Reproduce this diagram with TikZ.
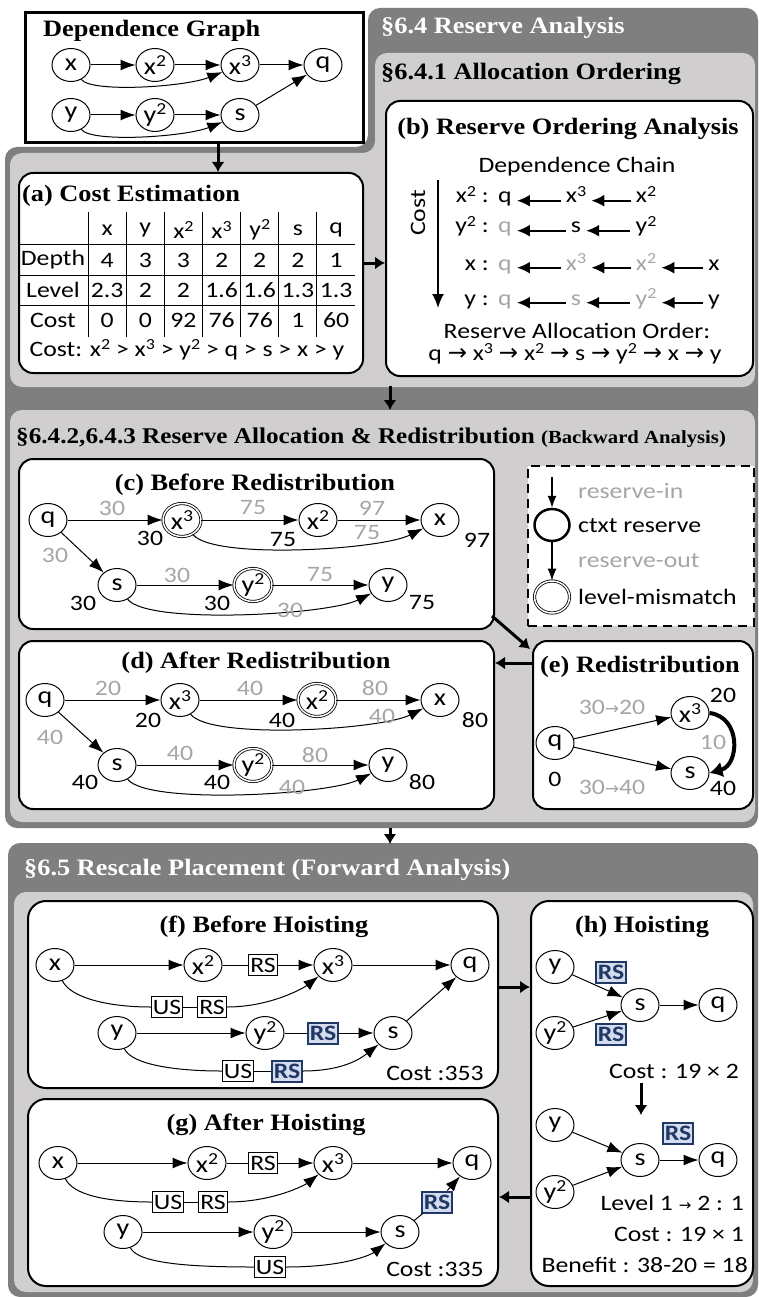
\documentclass[tikz,border=0pt]{standalone}
\usepackage{fontspec}
\setmainfont{Liberation Serif}[FakeStretch=1.12]
\setsansfont{Carlito}[FakeStretch=1.17]
\newfontfamily\arrf{DejaVu Sans}
\usetikzlibrary{arrows.meta,shapes.geometric}
\definecolor{dgray}{HTML}{7F7F7F}
\definecolor{lgray}{HTML}{D0CECE}
\definecolor{tgray}{HTML}{A6A6A6}
\definecolor{navy}{HTML}{203864}
\definecolor{lblue}{HTML}{D6DCF0}
\newcommand\myttl{\rmfamily\bfseries\fontsize{23.5}{26}\selectfont}
\newcommand\mysf{\sffamily\fontsize{22}{24}\selectfont}
\newcommand\mynd{\sffamily\fontsize{24}{24}\selectfont}
\newcommand\ssc[1]{\raisebox{0.62ex}{\scalebox{0.7}{#1}}}
\newcommand\ra{{\arrf\fontsize{17}{17}\selectfont →}}
\newcommand\rb{{\arrf\fontsize{23}{23}\selectfont →}}
\begin{document}
\begin{tikzpicture}[x=1pt,y=-1pt,
  nd/.style={ellipse, draw, line width=1pt, minimum width=38pt, minimum height=33pt, inner sep=0pt, fill=white, font=\mynd},
  dnd/.style={nd, double, double distance=1.5pt, line width=0.8pt},
  ed/.style={-{Latex[length=15pt,width=11pt]}, line width=1pt},
  ln/.style={line width=1pt},
  bigar/.style={-{Latex[length=10pt,width=13pt]}, line width=3pt},
  chain/.style={-{Latex[length=13pt,width=12pt]}, line width=2pt, shorten <=4pt, shorten >=4pt},
  bx/.style={draw, line width=2pt, rounded corners=14pt, fill=white, inner sep=0pt, anchor=north west},
  lb/.style={font=\mysf, inner sep=1pt},
  gl/.style={lb, text=tgray},
  ttl/.style={font=\myttl, inner sep=0pt},
  rsb/.style={draw, line width=1pt, fill=white, inner sep=1.5pt, font=\mysf, minimum height=21pt},
  brs/.style={draw=navy, line width=2pt, fill=lblue, text=navy, inner sep=1.5pt, font=\mysf\bfseries, minimum height=21pt},
]
\useasboundingbox (0,0) rectangle (759,1297);
\fill[white] (0,0) rectangle (759,1297);

% ---------- panels ----------
\fill[dgray, rounded corners=12pt] (368,8) -- (758,8) -- (758,828) -- (5,828) -- (5,147) -- (368,147) -- cycle;
\fill[lgray, rounded corners=12pt] (375,53) -- (755,53) -- (755,387) -- (10,387) -- (10,153) -- (375,153) -- cycle;
\fill[lgray, rounded corners=12pt] (10,410) rectangle (755,822);
\fill[dgray, rounded corners=12pt] (8,843) rectangle (758,1297);
\fill[lgray, rounded corners=12pt] (14,892) rectangle (753,1292);

\node[ttl, text=white, anchor=base west] (h64) at (381,34) {§6.4 Reserve Analysis};
\node[ttl, anchor=base west] (h641) at (381,80) {§6.4.1 Allocation Ordering};
\node[ttl, anchor=base west] (h642) at (16,443) {\fontsize{22.5}{24}\selectfont §6.4.2,6.4.3 Reserve Allocation \& Redistribution {\fontsize{18.5}{20}\selectfont (Backward Analysis)}};
\node[ttl, text=white, anchor=base west] (h65) at (24,875) {§6.5 Rescale Placement (Forward Analysis)};

% ---------- dependence graph ----------
\node[draw, line width=3pt, fill=white, anchor=north west, minimum width=338pt, minimum height=130pt, inner sep=0pt] (dg) at (24,11) {};
\node[ttl, anchor=base west] (dgt) at (43,37) {Dependence Graph};
\node[nd] (gx) at (71,65) {x};
\node[nd] (gx2) at (155,65) {x\ssc{2}};
\node[nd] (gx3) at (240,65) {x\ssc{3}};
\node[nd] (gq) at (323,65) {q};
\node[nd] (gy) at (71,115) {y};
\node[nd] (gy2) at (155,115) {y\ssc{2}};
\node[nd] (gs) at (240,115) {s};
\draw[ed] (gx) -- (gx2);
\draw[ed] (gx2) -- (gx3);
\draw[ed] (gx3) -- (gq);
\draw[ed] (gx) .. controls +(20,28) and +(-55,22) .. (gx3);
\draw[ed] (gy) -- (gy2);
\draw[ed] (gy2) -- (gs);
\draw[ed] (gs) -- (gq);
\draw[ed] (gy) .. controls +(20,28) and +(-55,22) .. (gs);

% ---------- (a) ----------
\node[bx, minimum width=344pt, minimum height=200pt] (boxa) at (18,172) {};
\draw[bigar] (dg.south -| 218,0) -- (boxa.north -| 218,0);
\node[ttl, anchor=base west] (at) at (22,202) {(a) Cost Estimation};
\foreach \yy in {245,275,305} \draw[line width=1pt] (20,\yy) -- (355,\yy);
\foreach \xx in {88,126.1,164.3,202.4,240.6,278.7,316.9} \draw[line width=1pt] (\xx,212) -- (\xx,337);
\foreach \t [count=\i] in {x,y,x\ssc{2},x\ssc{3},y\ssc{2},s,q} \node[lb] at ({69+38.15*\i},230) {\t};
\node[lb] at (53,260) {Depth};
\node[lb] at (53,290) {Level};
\node[lb] at (53,320) {Cost};
\foreach \t [count=\i] in {4,3,3,2,2,2,1} \node[lb] at ({69+38.15*\i},260) {\t};
\foreach \t [count=\i] in {2.3,2,2,1.6,1.6,1.3,1.3} \node[lb] at ({69+38.15*\i},290) {\t};
\foreach \t [count=\i] in {0,0,92,76,76,1,60} \node[lb] at ({69+38.15*\i},320) {\t};
\node[lb] (aco) at (187,350) {Cost: x\ssc{2} > x\ssc{3} > y\ssc{2} > q > s > x > y};

% ---------- (b) ----------
\node[bx, minimum width=367pt, minimum height=275pt] (boxb) at (385,100) {};
\draw[bigar] (boxa.east |- 0,263) -- (boxb.west |- 0,263);
\node[ttl, anchor=base] (bt) at (568,135) {(b) Reserve Ordering Analysis};
\node[lb] (bdc) at (577,167) {Dependence Chain};
\coordinate (ct) at (438,180);
\coordinate (cb) at (438,308);
\draw[-{Latex[length=14pt,width=12pt]}, line width=2pt] (ct) -- (cb);
\node[lb, rotate=90] (cl) at (418,213) {Cost};
% row 1
\node[lb, anchor=base east] (r1l) at (490,203) {x\ssc{2} :};
\node[lb, anchor=base] (r1a) at (505,203) {q};
\node[lb, anchor=base] (r1b) at (576,203) {x\ssc{3}};
\node[lb, anchor=base] (r1c) at (646,203) {x\ssc{2}};
\draw[chain] (r1b.mid west) -- (r1a.mid east);
\draw[chain] (r1c.mid west) -- (r1b.mid east);
% row 2
\node[lb, anchor=base east] (r2l) at (490,233) {y\ssc{2} :};
\node[gl, anchor=base] (r2a) at (505,233) {q};
\node[lb, anchor=base] (r2b) at (576,233) {s};
\node[lb, anchor=base] (r2c) at (646,233) {y\ssc{2}};
\draw[chain] (r2b.mid west) -- (r2a.mid east);
\draw[chain] (r2c.mid west) -- (r2b.mid east);
% row 3
\node[lb, anchor=base east] (r3l) at (490,270) {x :};
\node[gl, anchor=base] (r3a) at (505,270) {q};
\node[gl, anchor=base] (r3b) at (576,270) {x\ssc{3}};
\node[gl, anchor=base] (r3c) at (646,270) {x\ssc{2}};
\node[lb, anchor=base] (r3d) at (714,270) {x};
\draw[chain] (r3b.mid west) -- (r3a.mid east);
\draw[chain] (r3c.mid west) -- (r3b.mid east);
\draw[chain] (r3d.mid west) -- (r3c.mid east);
% row 4
\node[lb, anchor=base east] (r4l) at (490,305) {y :};
\node[gl, anchor=base] (r4a) at (505,305) {q};
\node[gl, anchor=base] (r4b) at (576,305) {s};
\node[gl, anchor=base] (r4c) at (646,305) {y\ssc{2}};
\node[lb, anchor=base] (r4d) at (714,305) {y};
\draw[chain] (r4b.mid west) -- (r4a.mid east);
\draw[chain] (r4c.mid west) -- (r4b.mid east);
\draw[chain] (r4d.mid west) -- (r4c.mid east);
\node[lb] (rao) at (577,331) {Reserve Allocation Order:};
\node[lb] (rord) at (575,354) {q \rb{} x\ssc{3} \rb{} x\ssc{2} \rb{} s \rb{} y\ssc{2} \rb{} x \rb{} y};

\coordinate (pa) at (390,386);
\coordinate (pb) at (390,410);
\draw[bigar] (pa) -- (pb);

% ---------- (c) ----------
\node[bx, minimum width=475pt, minimum height=170pt] (boxc) at (18,458) {};
\node[ttl, anchor=base] (ct2) at (255,490) {(c) Before Redistribution};
\node[nd] (cq) at (48,520) {q};
\node[dnd] (cx3) at (182,520) {x\ssc{3}};
\node[nd] (cx2) at (318,520) {x\ssc{2}};
\node[nd] (cx) at (440,520) {x};
\node[nd] (cs) at (117,585) {s};
\node[dnd] (cy2) at (253,585) {y\ssc{2}};
\node[nd] (cy) at (388,585) {y};
\draw[ed] (cq) -- (cx3);
\draw[ed] (cx3) -- (cx2);
\draw[ed] (cx2) -- (cx);
\draw[ed] (cx3) .. controls +(30,40) and +(-60,30) .. (cx);
\draw[ed] (cq) -- (cs);
\draw[ed] (cs) -- (cy2);
\draw[ed] (cy2) -- (cy);
\draw[ed] (cs) .. controls +(30,40) and +(-60,30) .. (cy);
\node[gl] at (112,508) {30};
\node[gl] at (253,508) {75};
\node[gl] at (372,508) {97};
\node[gl] at (367,533) {75};
\node[gl] at (55,555) {30};
\node[gl] at (177,575) {30};
\node[gl] at (320,575) {75};
\node[gl] at (290,610) {30};
\node[lb] at (150,538) {30};
\node[lb] at (283,540) {75};
\node[lb] at (477,540) {97};
\node[lb] at (83,603) {30};
\node[lb] at (217,603) {30};
\node[lb] at (422,603) {75};

% ---------- legend ----------
\node[draw, line width=2pt, dash pattern=on 9pt off 6pt, fill=white, anchor=north west, minimum width=226pt, minimum height=160pt, inner sep=0pt] (leg) at (527,465) {};
\coordinate (lt) at (552,477);
\node[ellipse, draw, line width=2.5pt, minimum width=35pt, minimum height=32pt, inner sep=0pt, fill=white] (lc) at (552,525) {};
\node[dnd, minimum width=35pt, minimum height=32pt] (lm) at (552,597) {};
\draw[-{Latex[length=12pt,width=9pt]}, line width=1.2pt] (lt) -- (lc);
\draw[-{Latex[length=12pt,width=9pt]}, line width=1.2pt] (lc) -- (lm);
\node[gl, anchor=west] at (577,491) {reserve-in};
\node[lb, anchor=west] at (577,526) {ctxt reserve};
\node[gl, anchor=west] at (577,561) {reserve-out};
\node[lb, anchor=west] at (577,597) {level-mismatch};

% ---------- (d) ----------
\node[bx, minimum width=475pt, minimum height=168pt] (boxd) at (18,640) {};
\node[ttl, anchor=base] (dt) at (256,668) {(d) After Redistribution};
\node[nd] (dq) at (45,700) {q};
\node[nd] (dx3) at (180,700) {x\ssc{3}};
\node[dnd] (dx2) at (317,700) {x\ssc{2}};
\node[nd] (dx) at (440,700) {x};
\node[nd] (ds) at (117,765) {s};
\node[dnd] (dy2) at (253,765) {y\ssc{2}};
\node[nd] (dy) at (388,765) {y};
\draw[ed] (dq) -- (dx3);
\draw[ed] (dx3) -- (dx2);
\draw[ed] (dx2) -- (dx);
\draw[ed] (dx3) .. controls +(30,40) and +(-60,30) .. (dx);
\draw[ed] (dq) -- (ds);
\draw[ed] (ds) -- (dy2);
\draw[ed] (dy2) -- (dy);
\draw[ed] (ds) .. controls +(30,40) and +(-60,30) .. (dy);
\node[gl] at (108,688) {20};
\node[gl] at (250,688) {40};
\node[gl] at (375,688) {80};
\node[gl] at (382,716) {40};
\node[gl] at (50,737) {40};
\node[gl] at (180,753) {40};
\node[gl] at (315,755) {80};
\node[gl] at (292,787) {40};
\node[lb] at (148,720) {20};
\node[lb] at (282,720) {40};
\node[lb] at (475,720) {80};
\node[lb] at (85,782) {40};
\node[lb] at (217,782) {40};
\node[lb] at (422,782) {80};

% ---------- (e) ----------
\node[bx, minimum width=220pt, minimum height=168pt] (boxe) at (532,640) {};
\node[ttl, anchor=base west] (et) at (540,672) {(e) Redistribution};
\node[nd] (eq) at (555,743) {q};
\node[nd] (ex3) at (690,713) {x\ssc{3}};
\node[nd] (es) at (690,773) {s};
\draw[ed] (eq) -- (ex3);
\draw[ed] (eq) -- (es);
\draw[line width=4pt, -{Latex[length=13pt,width=16pt]}] (ex3.east) .. controls +(32,4) and +(30,-8) .. (es.east);
\node[gl] at (612,707) {30\ra{}20};
\node[gl] at (612,787) {30\ra{}40};
\node[gl] at (713,742) {10};
\node[lb] at (555,779) {0};
\node[lb] at (723,695) {20};
\node[lb] at (723,788) {40};
\draw[bigar] ([shift={(-3,-14)}]boxc.south east) -- ([shift={(-2,9)}]boxe.north west);
\draw[bigar] (boxe.west |- 0,663) -- (boxd.east |- 0,663);

\coordinate (pc) at (390,828);
\coordinate (pd) at (390,844);
\draw[bigar] (pc) -- (pd);

% ---------- (f) ----------
\node[bx, minimum width=470pt, minimum height=187pt, rounded corners=18pt] (boxf) at (27,900) {};
\node[ttl, anchor=base] (ft) at (264,932) {(f) Before Hoisting};
\node[nd] (fx) at (55,965) {x};
\node[nd] (fx2) at (203,965) {x\ssc{2}};
\node[rsb] (frs1) at (263,965) {RS};
\node[nd] (fx3) at (333,965) {x\ssc{3}};
\node[nd] (fq) at (470,965) {q};
\node[rsb] (fus1) at (167,1007) {US};
\node[rsb] (frs2) at (212,1007) {RS};
\node[nd] (fy) at (117,1033) {y};
\node[nd] (fy2) at (265,1033) {y\ssc{2}};
\node[brs] (frs3) at (323,1033) {RS};
\node[nd] (fs) at (393,1033) {s};
\node[rsb] (fus2) at (238,1071) {US};
\node[brs] (frs4) at (287,1071) {RS};
\draw[ed] (fx) -- (fx2);
\draw[ln] (fx2) -- (frs1);
\draw[ed] (frs1) -- (fx3);
\draw[ed] (fx3) -- (fq);
\draw[ln] (fx) .. controls +(15,32) and +(-45,0) .. (fus1.west);
\draw[ln] (fus1) -- (frs2);
\draw[ed] (frs2.east) .. controls +(45,0) and +(-28,22) .. (fx3);
\draw[ed] (fy) -- (fy2);
\draw[ln] (fy2) -- (frs3);
\draw[ed] (frs3) -- (fs);
\draw[ed] (fs) -- (fq);
\draw[ln] (fy) .. controls +(15,32) and +(-45,0) .. (fus2.west);
\draw[ln] (fus2) -- (frs4);
\draw[ed] (frs4.east) .. controls +(45,0) and +(-28,22) .. (fs);
\node[lb, anchor=base east] (fc) at (485,1080) {Cost :353};

% ---------- (g) ----------
\node[bx, minimum width=470pt, minimum height=187pt, rounded corners=18pt] (boxg) at (27,1098) {};
\node[ttl, anchor=base] (gt) at (266,1130) {(g) After Hoisting};
\node[nd] (hx) at (58,1163) {x};
\node[nd] (hx2) at (207,1163) {x\ssc{2}};
\node[rsb] (hrs1) at (263,1163) {RS};
\node[nd] (hx3) at (333,1163) {x\ssc{3}};
\node[nd] (hq) at (472,1163) {q};
\node[rsb] (hus1) at (168,1202) {US};
\node[rsb] (hrs2) at (213,1202) {RS};
\node[nd] (hy) at (123,1232) {y};
\node[nd] (hy2) at (273,1232) {y\ssc{2}};
\node[nd] (hs) at (400,1232) {s};
\node[brs] (hrs3) at (437,1202) {RS};
\node[rsb] (hus2) at (270,1267) {US};
\draw[ed] (hx) -- (hx2);
\draw[ln] (hx2) -- (hrs1);
\draw[ed] (hrs1) -- (hx3);
\draw[ed] (hx3) -- (hq);
\draw[ln] (hx) .. controls +(15,32) and +(-45,0) .. (hus1.west);
\draw[ln] (hus1) -- (hrs2);
\draw[ed] (hrs2.east) .. controls +(45,0) and +(-28,22) .. (hx3);
\draw[ed] (hy) -- (hy2);
\draw[ed] (hy2) -- (hs);
\draw[ln] (hs) -- (hrs3);
\draw[ed] (hrs3) -- (hq);
\draw[ln] (hy) .. controls +(15,32) and +(-60,0) .. (hus2.west);
\draw[ed] (hus2.east) .. controls +(60,0) and +(-28,22) .. (hs);
\node[lb, anchor=base east] (gc) at (485,1276) {Cost :335};

% ---------- (h) ----------
\node[bx, minimum width=222pt, minimum height=385pt, rounded corners=18pt] (boxh) at (530,900) {};
\node[ttl, anchor=base] (ht) at (642,932) {(h) Hoisting};
\node[nd] (ky) at (555,967) {y};
\node[nd] (ky2) at (555,1033) {y\ssc{2}};
\node[nd] (ks) at (640,1005) {s};
\node[nd] (kq) at (718,1005) {q};
\node[brs] (krs1) at (611,972) {RS};
\node[brs] (krs2) at (611,1034) {RS};
\draw[ed] (ky) -- (ks);
\draw[ed] (ky2) -- (ks);
\draw[ed] (ks) -- (kq);
\node[lb, anchor=east] (kc1) at (740,1071) {Cost : 19 × 2};
\coordinate (ka1) at (641,1083);
\coordinate (ka2) at (641,1115);
\draw[bigar] (ka1) -- (ka2);
\node[nd] (my) at (555,1125) {y};
\node[nd] (my2) at (555,1192) {y\ssc{2}};
\node[nd] (ms) at (640,1160) {s};
\node[nd] (mq) at (718,1160) {q};
\node[brs] (mrs) at (678,1133) {RS};
\draw[ed] (my) -- (ms);
\draw[ed] (my2) -- (ms);
\draw[ed] (ms) -- (mq);
\node[lb, anchor=east] (kl) at (745,1203) {Level 1 {\arrf\fontsize{15}{15}\selectfont →} 2 : 1};
\node[lb, anchor=east] (kc2) at (745,1234) {Cost : 19 × 1};
\node[lb, anchor=east] (kb) at (749,1265) {Benefit : 38-20 = 18};

\draw[bigar] (boxf.east |- 0,987) -- (boxh.west |- 0,987);
\draw[bigar] (boxh.west |- 0,1197) -- (boxg.east |- 0,1197);
\end{tikzpicture}
\end{document}
